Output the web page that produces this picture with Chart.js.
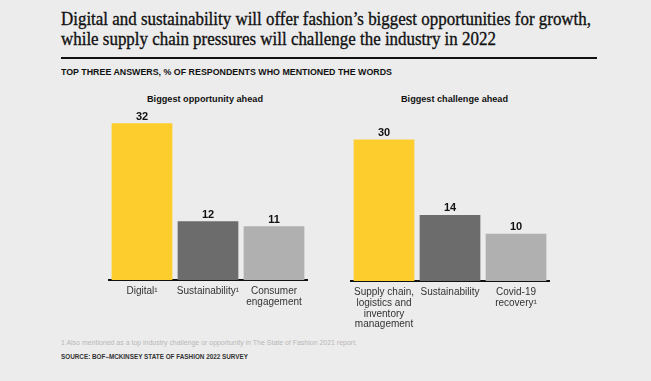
<!DOCTYPE html>
<html><head><meta charset="utf-8">
<script src="https://cdn.jsdelivr.net/npm/chart.js@4"></script>
<style>
html,body{margin:0;padding:0;background:#ececec;}
#wrap{position:relative;width:651px;height:381px;overflow:hidden;background:#ececec;font-family:"Liberation Sans",Arial,sans-serif;}
.t{position:absolute;white-space:nowrap;transform-origin:0 0;}
#title{left:61px;top:9px;font-family:"Liberation Serif",serif;font-size:19px;line-height:20px;color:#111;-webkit-text-stroke:0.35px #111;}
#rule{position:absolute;left:61px;top:57px;width:536px;height:2px;background:#111;}
#sub{left:61px;top:67px;font-size:8.5px;font-weight:bold;color:#111;}
.ptitle{font-size:9px;font-weight:bold;color:#111;}
#foot{left:61px;top:339px;font-size:7px;color:#b8b8b8;}
#src{left:61px;top:352px;font-size:7.5px;color:#333;font-weight:bold;}
canvas{position:absolute;}
</style></head>
<body><div id="wrap">
<div id="title" class="t"><span id="tl1">Digital and sustainability will offer fashion’s biggest opportunities for growth,</span><br><span>while supply chain pressures will challenge the industry in 2022</span></div>
<div id="rule"></div>
<div id="sub" class="t">TOP THREE ANSWERS, % OF RESPONDENTS WHO MENTIONED THE WORDS</div>
<div id="pt1" class="t ptitle" style="left:147px;top:94px;">Biggest opportunity ahead</div>
<div id="pt2" class="t ptitle" style="left:401px;top:94px;">Biggest challenge ahead</div>
<div id="foot" class="t">1 Also mentioned as a top industry challenge or opportunity in The State of Fashion 2021 report.</div>
<div id="src" class="t">SOURCE: BOF–MCKINSEY STATE OF FASHION 2022 SURVEY</div>
<canvas id="c1" width="240" height="240" style="left:88px;top:100px;"></canvas>
<canvas id="c2" width="240" height="240" style="left:330px;top:101px;"></canvas>
</div>
<script>
const oppCategories = [["Digital¹"], ["Sustainability¹"], ["Consumer", "engagement"]];
const oppValues = [32, 12, 11];
const chalCategories = [["Supply chain,", "logistics and", "inventory", "management"], ["Sustainability"], ["Covid-19", "recovery¹"]];
const chalValues = [30, 14, 10];
const barColors = ["#fdcd2e", "#6d6c6c", "#b0b0b0"];

function fit(id, w){
  const el = document.getElementById(id);
  const target = el.id === 'title' ? document.getElementById('tl1') : el;
  const cw = target.getBoundingClientRect().width;
  el.style.transform = 'scaleX(' + (w / cw) + ')';
}
fit('title', 530);
fit('sub', 331);
fit('pt1', 116);
fit('pt2', 107);
fit('foot', 296);
fit('src', 187);

const valueLabels = {
  id: 'valueLabels',
  afterDatasetsDraw(chart){
    const ctx = chart.ctx;
    const meta = chart.getDatasetMeta(0);
    ctx.save();
    ctx.font = 'bold 11px "Liberation Sans", Arial, sans-serif';
    ctx.fillStyle = '#111';
    ctx.textAlign = 'center';
    ctx.textBaseline = 'bottom';
    meta.data.forEach((bar, i) => {
      ctx.fillText(chart.data.datasets[0].data[i], bar.x, bar.y - 1);
    });
    ctx.restore();
  }
};

function makeChart(id, cats, vals, ymax, padLeft, padRight){
  return new Chart(document.getElementById(id), {
    type: 'bar',
    data: { labels: cats, datasets: [{ data: vals, backgroundColor: barColors, borderWidth: 0,
      categoryPercentage: 1.0, barPercentage: 0.92 }] },
    options: {
      responsive: false, animation: false,
      layout: { padding: { left: padLeft, right: padRight, top: 13, bottom: 0 } },
      plugins: { legend: { display: false }, tooltip: { enabled: false } },
      scales: {
        y: { display: false, min: 0, max: ymax },
        x: {
          afterFit(scale){ scale.height = 60; },
          grid: { display: false, drawTicks: false },
          border: { display: true, color: '#111', width: 2 },
          ticks: { color: '#333', padding: 6, maxRotation: 0, autoSkip: false,
            font: { family: '"Liberation Sans", Arial, sans-serif', size: 10, lineHeight: 1.07 } }
        }
      }
    },
    plugins: [valueLabels]
  });
}
makeChart('c1', oppCategories, oppValues, 34.1, 21, 21);
makeChart('c2', chalCategories, chalValues, 35.4, 21, 21);
</script>
</body></html>
